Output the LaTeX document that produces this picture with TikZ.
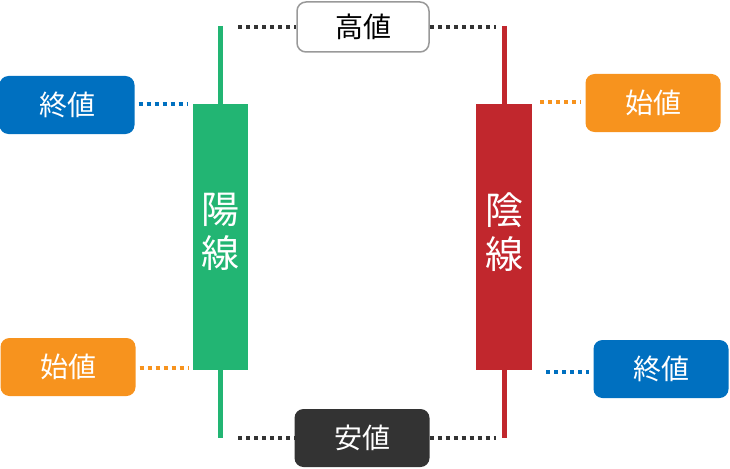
\documentclass[tikz,border=0pt]{standalone}
\usepackage{fontspec}
\newfontfamily\jp{Noto Sans CJK JP}
\definecolor{yang}{HTML}{22B573}
\definecolor{yin}{HTML}{C1272D}
\definecolor{closeblue}{HTML}{0070C0}
\definecolor{openorange}{HTML}{F7931E}
\definecolor{lowgray}{HTML}{333333}
\tikzset{
  label box/.style={rounded corners=9pt, minimum width=135pt, minimum height=58pt,
    font=\jp\fontsize{28}{30}\selectfont, text=white, inner sep=0pt},
  dots/.style={line width=4pt, dash pattern=on 4pt off 4pt},
  wick/.style={line width=5pt},
}
\begin{document}
\begin{tikzpicture}[x=1pt,y=-1pt]
        \useasboundingbox (0,0) rectangle (730,468);
        %candles
        \draw[wick, yang] (220,26) -- (220,438);
        \fill[yang] (193,104) rectangle (248,370);
        \draw[wick, yin] (504,26) -- (504,438);
        \fill[yin] (476,104) rectangle (532,370);
        \node[text=white, font=\jp\fontsize{38}{44}\selectfont, align=center] (yangsen) at (220,232) {陽\\線};
        \node[text=white, font=\jp\fontsize{38}{44}\selectfont, align=center] (insen) at (504,232) {陰\\線};
        
        %label boxes
        \node[label box, fill=white, draw=gray!80, line width=1.5pt, text=black, minimum width=132pt, minimum height=50pt] (high) at (363,27) {高値};
        \node[label box, fill=lowgray] (low) at (362,438) {安値};
        \node[label box, fill=closeblue] (closeL) at (67,105) {終値};
        \node[label box, fill=openorange] (openL) at (68,367) {始値};
        \node[label box, fill=openorange] (openR) at (653,103) {始値};
        \node[label box, fill=closeblue] (closeR) at (661,369) {終値};
        
        %dotted leaders
        \draw[dots, lowgray] (238,27) -- (high.west);
        \draw[dots, lowgray] (high.east) -- (496,27);
        \draw[dots, lowgray] (238,438) -- (low.west);
        \draw[dots, lowgray] (low.east) -- (496,438);
        \draw[dots, closeblue] ([xshift=4pt]closeL.east |- 0,104) -- (188,104);
        \draw[dots, openorange] ([xshift=4pt]openL.east |- 0,368) -- (188,368);
        \draw[dots, openorange] (540,102) -- ([xshift=-4pt]openR.west |- 0,102);
        \draw[dots, closeblue] (546,372) -- ([xshift=-4pt]closeR.west |- 0,372);
        
    \end{tikzpicture}
\end{document}
